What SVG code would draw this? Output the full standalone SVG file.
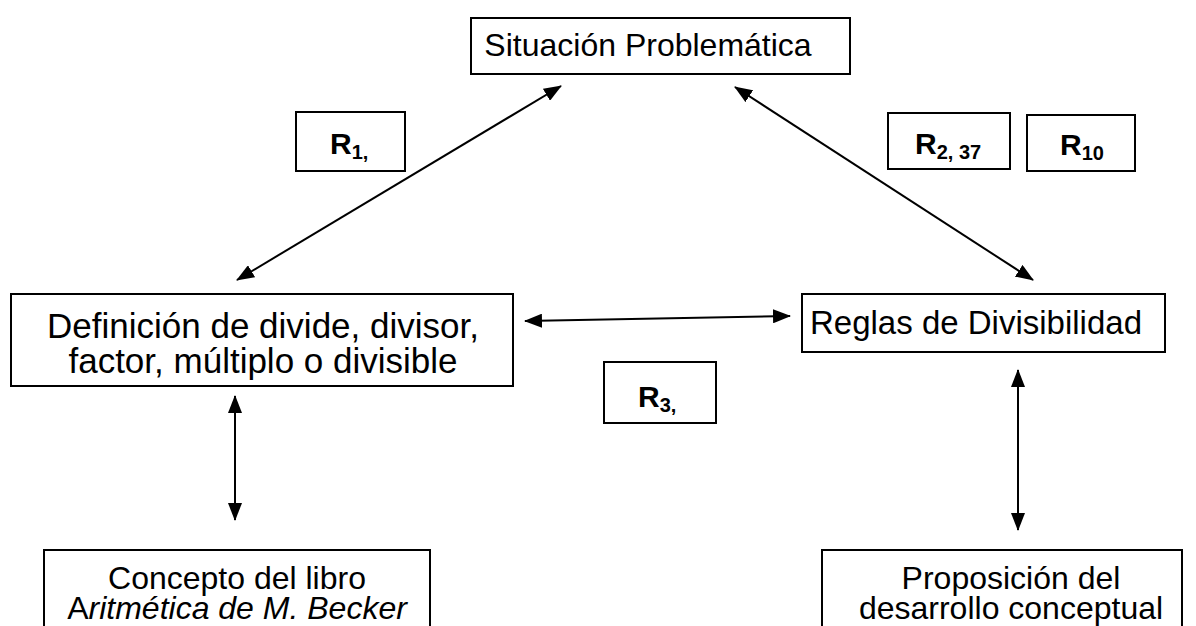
<svg xmlns="http://www.w3.org/2000/svg" width="1196" height="626" viewBox="0 0 1196 626">
  <style>
    .box { fill: #ffffff; stroke: #000000; stroke-width: 2; }
    .txt { font-family: "Liberation Sans", Arial, sans-serif; font-size: 32px; fill: #000000; text-anchor: middle; }
    .big { font-size: 35px; }
    .rl { font-family: "Liberation Sans", Arial, sans-serif; font-size: 30px; font-weight: bold; fill: #000000; }
    .sub { font-size: 20px; }
    .conn { stroke: #000000; stroke-width: 2; fill: none; marker-start: url(#head); marker-end: url(#head); }
  </style>
  <defs>
    <marker id="head" viewBox="0 0 18 14" refX="17" refY="7" markerWidth="18" markerHeight="14" markerUnits="userSpaceOnUse" orient="auto-start-reverse">
      <path d="M0,0 L18,7 L0,14 Z" fill="#000000"/>
    </marker>
  </defs>

  <g id="connectors">
    <line class="conn" x1="237" y1="280" x2="561" y2="86"/>
    <line class="conn" x1="1033" y1="280" x2="735" y2="87"/>
    <line class="conn" x1="525" y1="321" x2="790" y2="316"/>
    <line class="conn" x1="235" y1="396" x2="235" y2="520"/>
    <line class="conn" x1="1018" y1="370" x2="1018" y2="530"/>
  </g>

  <g id="situacion">
    <rect class="box" x="471" y="18" width="379" height="56"/>
    <text class="txt" x="648" y="56">Situación Problemática</text>
  </g>

  <g id="definicion">
    <rect class="box" x="11" y="294" width="502" height="92"/>
    <text class="txt big" x="263" y="338">Definición de divide, divisor,</text>
    <text class="txt big" x="263" y="373">factor, múltiplo o divisible</text>
  </g>

  <g id="reglas">
    <rect class="box" x="802" y="294" width="363" height="58"/>
    <text class="txt" x="976" y="334" style="font-size:33px">Reglas de Divisibilidad</text>
  </g>

  <g id="concepto">
    <rect class="box" x="44" y="550" width="386" height="100"/>
    <text class="txt" x="237" y="589">Concepto del libro</text>
    <text class="txt" x="237" y="619">A<tspan font-style="italic">ritmética de M. Becker</tspan></text>
  </g>

  <g id="proposicion">
    <rect class="box" x="822" y="550" width="360" height="100"/>
    <text class="txt" x="1011" y="589">Proposición del</text>
    <text class="txt" x="1011" y="619">desarrollo conceptual</text>
  </g>

  <g id="r1">
    <rect class="box" x="296" y="112" width="109" height="59"/>
    <text class="rl" x="330" y="154">R<tspan class="sub" dy="5">1,</tspan></text>
  </g>

  <g id="r2">
    <rect class="box" x="888" y="113" width="122" height="56"/>
    <text class="rl" x="915" y="154">R<tspan class="sub" dy="5">2, 37</tspan></text>
  </g>

  <g id="r10">
    <rect class="box" x="1027" y="115" width="108" height="56"/>
    <text class="rl" x="1060" y="155">R<tspan class="sub" dy="5">10</tspan></text>
  </g>

  <g id="r3">
    <rect class="box" x="604" y="362" width="112" height="61"/>
    <text class="rl" x="638" y="407">R<tspan class="sub" dy="5">3,</tspan></text>
  </g>
</svg>
